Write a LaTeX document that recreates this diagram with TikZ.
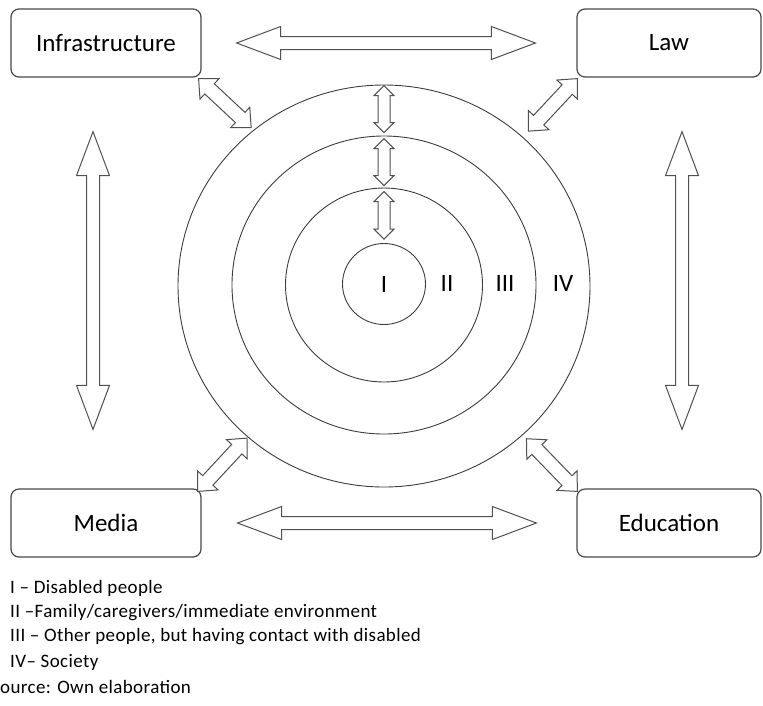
\documentclass[tikz,border=0pt]{standalone}
\usepackage{fontspec}
\setmainfont{Carlito}
\newfontfamily\legendfont[LetterSpace=2]{Carlito}
\usetikzlibrary{calc,positioning,shapes.geometric}
\definecolor{boxedge}{RGB}{72,72,72}
\definecolor{ringedge}{RGB}{60,60,60}
\definecolor{arrowedge}{RGB}{80,80,80}
\tikzset{
  areabox/.style={rounded corners=8pt, draw=boxedge, line width=1.2pt, inner sep=0pt,
                  minimum width=190pt, minimum height=68pt, font=\fontsize{25}{30}\selectfont},
  ring/.style={ellipse, draw=ringedge, line width=0.9pt, inner sep=0pt},
  numeral/.style={inner sep=1pt, font=\fontsize{25}{30}\selectfont},
  legend/.style={anchor=west, inner sep=0pt, font=\legendfont\fontsize{19}{22}\selectfont},
  blockarr/.style={draw=arrowedge, line width=1pt, line join=miter, fill=white},
}
% double block arrow: from, to, shaft half width, head half width, head length
\newcommand{\twoway}[5]{%
  \path let \p1=(#1), \p2=(#2) in
    \pgfextra{%
      \pgfmathsetmacro{\arrowang}{atan2(\y2-\y1,\x2-\x1)}%
      \pgfmathsetmacro{\arrowlen}{veclen(\x2-\x1,\y2-\y1)}%
      \xdef\arrowang{\arrowang}\xdef\arrowlen{\arrowlen}%
      \xdef\arrowx{\x1}\xdef\arrowy{\y1}};
  \draw[blockarr, shift={(\arrowx,\arrowy)}, rotate=\arrowang]
    (0,0) -- (#5,#4) -- (#5,#3) -- (\arrowlen-#5,#3) -- (\arrowlen-#5,#4)
    -- (\arrowlen,0) -- (\arrowlen-#5,-#4) -- (\arrowlen-#5,-#3)
    -- (#5,-#3) -- (#5,-#4) -- cycle;}

\begin{document}
\begin{tikzpicture}[x=1pt, y=-1pt]
  \useasboundingbox (0,0) rectangle (763,705);

  % the four areas
  \node[areabox] (infra) at (106,43) {Infrastructure};
  \node[areabox, minimum width=184pt] (law) at (669,43) {Law};
  \node[areabox] (media) at (106,523) {Media};
  \node[areabox, minimum width=184pt] (edu) at (669,523) {Education};

  % circles
  \node[ring, minimum width=412pt, minimum height=402pt] (society) at (384,286) {};
  \node[ring, minimum width=304pt, minimum height=298pt] (others) at (384,285) {};
  \node[ring, minimum width=197pt, minimum height=194pt] (family) at (384,285) {};
  \node[ring, numeral, minimum width=83pt, minimum height=81pt] (disabled) at (384,284) {I};
  \node[numeral] (ii) at (447,283) {II};
  \node[numeral] (iii) at (505,283) {III};
  \node[numeral] (iv) at (563,283) {IV};

  % arrows between the areas
  \twoway{$(infra.east)+(35,0)$}{$(law.west)+(-41,0)$}{6.5}{16.5}{44}
  \twoway{$(media.east)+(36,0)$}{$(edu.west)+(-40,0)$}{6.5}{16.5}{44}
  \twoway{$(infra.south)+(-13,54)$}{$(media.north)+(-13,-59)$}{6.5}{16.5}{44}
  \twoway{$(law.south)+(13,54)$}{$(edu.north)+(13,-59)$}{6.5}{16.5}{44}

  % arrows to the circles
  \twoway{$(infra.south east)+(-3,1)$}{$(society.130)!-3pt!(society.center)$}{7}{14}{15}
  \twoway{$(law.south west)+(1,1)$}{$(society.47)!-8pt!(society.center)$}{7}{14}{15}
  \twoway{$(media.north east)+(-4,3)$}{$(society.228)!-1pt!(society.center)$}{7}{14}{15}
  \twoway{$(edu.north west)+(1,3)$}{$(society.313)!-5pt!(society.center)$}{7}{14}{15}

  % arrows between the rings
  \twoway{$(society.north)+(0,1)$}{$(others.north)+(0,-3)$}{6}{10}{10}
  \twoway{$(others.north)+(0,3)$}{$(family.north)+(0,-2)$}{6}{10}{10}
  \twoway{$(family.north)+(0,4)$}{$(disabled.north)+(0,-4)$}{6}{10}{10}

  % legend
  \node[legend] (leg1) at (10,588) {I – Disabled people};
  \node[legend] (leg2) at (10,613) {II –Family/caregivers/immediate environment};
  \node[legend] (leg3) at (10,637) {III – Other people, but having contact with disabled};
  \node[legend] (leg4) at (10,662) {IV– Society};
  \node[legend] (src) at (0,687) {ource:  Own elaboration};
\end{tikzpicture}
\end{document}
